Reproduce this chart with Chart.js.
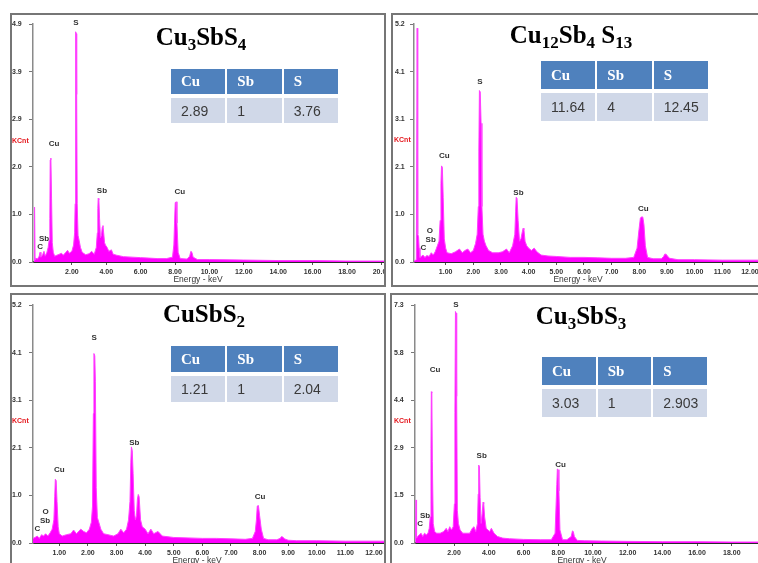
<!DOCTYPE html>
<html><head><meta charset="utf-8">
<script src="https://cdn.jsdelivr.net/npm/chart.js@4"></script>
<style>
html,body{margin:0;padding:0;background:#fff;width:758px;height:563px;overflow:hidden;position:relative;}
.panel{position:absolute;box-sizing:border-box;border:2px solid #767676;overflow:hidden;background:#fff;}
.panel canvas{position:absolute;}
.title{position:absolute;transform:translateX(-50%);font:bold 25px "Liberation Serif",serif;line-height:25px;white-space:nowrap;color:#000;}
.title .s{font-size:0.68em;position:relative;top:0.28em;}
.tbl{position:absolute;display:grid;grid-template-columns:1fr 1fr 1fr;column-gap:2px;row-gap:4px;}
.tbl div{box-sizing:border-box;padding-left:10px;display:flex;align-items:center;}
.tbl .h{background:#4f81bd;color:#fff;font:bold 15px "Liberation Serif",serif;}
.tbl .d{background:#d0d8e8;color:#3a3a3a;font:14px "Liberation Sans",sans-serif;}
</style></head>
<body>
<div class="panel" id="pTL" style="left:10px;top:13px;width:376px;height:274px;"><canvas id="cTL"></canvas></div>
<div class="panel" id="pTR" style="left:391px;top:13px;width:380px;height:274px;"><canvas id="cTR"></canvas></div>
<div class="panel" id="pBL" style="left:10px;top:293px;width:376px;height:280px;"><canvas id="cBL"></canvas></div>
<div class="panel" id="pBR" style="left:390px;top:293px;width:380px;height:280px;"><canvas id="cBR"></canvas></div>

<div class="title" style="left:201px;top:24px;">Cu<span class="s">3</span>SbS<span class="s">4</span></div>
<div class="title" style="left:571px;top:22px;">Cu<span class="s">12</span>Sb<span class="s">4</span> S<span class="s">13</span></div>
<div class="title" style="left:204px;top:301px;">CuSbS<span class="s">2</span></div>
<div class="title" style="left:581px;top:303px;">Cu<span class="s">3</span>SbS<span class="s">3</span></div>

<div class="tbl" id="tTL" style="left:171px;top:69px;width:167px;grid-template-rows:25px 25px;"></div>
<div class="tbl" id="tTR" style="left:541px;top:61px;width:167px;grid-template-rows:28px 28px;"></div>
<div class="tbl" id="tBL" style="left:171px;top:346px;width:167px;grid-template-rows:26px 26px;"></div>
<div class="tbl" id="tBR" style="left:542px;top:357px;width:165px;grid-template-rows:28px 28px;"></div>

<script>
// ---------- DATA ----------
const tableHeaders = ['Cu','Sb','S'];
const ratiosTL = ['2.89','1','3.76'];
const ratiosTR = ['11.64','4','12.45'];
const ratiosBL = ['1.21','1','2.04'];
const ratiosBR = ['3.03','1','2.903'];

// Cu3SbS4 spectrum (keV, KCnt)
const energyTL = [-0.2,-0.17,-0.14,-0.1,0.0,0.1,0.15,0.2,0.3,0.38,0.45,0.55,0.62,0.68,0.72,0.74,0.78,0.82,0.86,0.92,1.0,1.2,1.4,1.5,1.65,1.75,1.85,2.0,2.1,2.16,2.19,2.21,2.23,2.26,2.28,2.31,2.36,2.42,2.5,2.6,2.8,3.0,3.15,3.3,3.42,3.48,3.51,3.53,3.57,3.61,3.66,3.72,3.77,3.81,3.85,3.9,3.95,4.05,4.15,4.3,4.4,4.6,5.0,5.5,6.0,6.5,7.0,7.5,7.85,7.93,7.97,8.01,8.06,8.11,8.18,8.3,8.7,8.85,8.92,8.98,9.05,9.3,10,12,14,16,18,20.15];
const countsTL = [0.02,1.13,0.05,0.08,0.06,0.12,0.2,0.1,0.15,0.22,0.12,0.2,0.3,0.45,0.9,2.1,2.14,1.3,0.4,0.2,0.12,0.15,0.18,0.14,0.2,0.24,0.18,0.22,0.35,0.6,1.2,3.4,4.74,4.7,3.45,1.2,0.55,0.45,0.3,0.2,0.15,0.17,0.22,0.16,0.3,0.6,1.1,1.31,1.28,0.9,0.5,0.55,0.72,0.75,0.6,0.4,0.35,0.3,0.22,0.25,0.16,0.14,0.11,0.1,0.09,0.08,0.07,0.07,0.1,0.35,0.8,1.22,1.24,0.8,0.2,0.07,0.06,0.12,0.22,0.2,0.1,0.05,0.05,0.04,0.03,0.03,0.02,0.02];

// Cu12Sb4S13 spectrum
const energyTR = [-0.14,-0.06,-0.03,-0.01,0.02,0.04,0.07,0.12,0.18,0.25,0.32,0.4,0.48,0.55,0.62,0.7,0.76,0.8,0.83,0.85,0.88,0.91,0.95,1.0,1.05,1.2,1.35,1.5,1.6,1.7,1.8,1.9,2.0,2.08,2.14,2.18,2.2,2.22,2.25,2.28,2.31,2.35,2.4,2.46,2.55,2.7,2.9,3.05,3.2,3.3,3.42,3.5,3.53,3.55,3.58,3.62,3.67,3.72,3.77,3.8,3.83,3.87,3.93,4.0,4.1,4.2,4.3,4.45,4.7,5.0,5.5,6.0,6.5,7.0,7.5,7.8,7.92,7.99,8.04,8.09,8.13,8.17,8.22,8.3,8.5,8.8,8.88,8.92,8.97,9.03,9.1,9.4,10,11,12.9];
const countsTR = [0.02,0.05,5.06,0.6,0.55,0.3,0.1,0.12,0.15,0.1,0.14,0.12,0.2,0.15,0.22,0.35,0.45,0.9,1.7,2.08,2.05,1.4,0.5,0.3,0.2,0.18,0.22,0.28,0.2,0.25,0.28,0.2,0.25,0.4,0.6,1.2,2.4,3.71,3.68,3.0,1.2,0.6,0.45,0.35,0.25,0.2,0.2,0.22,0.28,0.2,0.35,0.6,1.1,1.4,1.38,0.9,0.45,0.5,0.65,0.73,0.7,0.45,0.35,0.3,0.25,0.3,0.22,0.15,0.13,0.12,0.1,0.1,0.09,0.08,0.08,0.1,0.3,0.7,0.95,0.98,0.97,0.8,0.35,0.1,0.07,0.07,0.12,0.17,0.17,0.12,0.08,0.05,0.05,0.04,0.04];

// CuSbS2 spectrum
const energyBL = [0.08,0.15,0.23,0.3,0.38,0.45,0.52,0.6,0.68,0.75,0.81,0.84,0.86,0.89,0.92,0.96,1.0,1.1,1.25,1.4,1.5,1.6,1.75,1.85,1.95,2.05,2.12,2.16,2.19,2.21,2.24,2.26,2.29,2.33,2.38,2.45,2.55,2.7,2.9,3.05,3.15,3.25,3.35,3.42,3.47,3.5,3.52,3.55,3.58,3.62,3.66,3.7,3.73,3.76,3.79,3.84,3.9,4.0,4.1,4.2,4.3,4.45,4.6,5.0,5.5,6.0,6.5,7.0,7.5,7.75,7.85,7.89,7.92,7.96,8.0,8.06,8.14,8.3,8.6,8.72,8.77,8.81,8.87,9.0,9.3,10,11,12.35];
const countsBL = [0.1,0.12,0.15,0.1,0.18,0.15,0.2,0.15,0.22,0.3,0.5,1.0,1.38,1.35,0.9,0.35,0.2,0.15,0.18,0.2,0.28,0.2,0.3,0.25,0.22,0.3,0.45,0.8,2.8,4.1,4.05,3.5,1.2,0.55,0.45,0.3,0.2,0.18,0.15,0.2,0.3,0.22,0.3,0.5,0.9,1.75,2.08,2.0,1.5,0.7,0.5,0.6,0.95,1.05,1.0,0.5,0.35,0.3,0.2,0.3,0.2,0.25,0.15,0.12,0.11,0.1,0.1,0.09,0.08,0.1,0.25,0.5,0.8,0.81,0.6,0.3,0.1,0.07,0.07,0.1,0.14,0.13,0.09,0.06,0.05,0.05,0.04,0.04];

// Cu3SbS3 spectrum
const energyBR = [-0.23,-0.19,-0.16,-0.1,0.0,0.1,0.2,0.3,0.4,0.5,0.57,0.63,0.67,0.69,0.72,0.75,0.8,0.88,1.0,1.2,1.4,1.55,1.65,1.75,1.85,1.95,2.02,2.05,2.08,2.12,2.15,2.19,2.25,2.35,2.5,2.7,2.9,3.05,3.15,3.25,3.35,3.39,3.42,3.46,3.5,3.56,3.62,3.67,3.71,3.76,3.85,3.95,4.05,4.15,4.3,4.5,4.8,5.2,6.0,7.0,7.6,7.82,7.92,7.95,7.99,8.04,8.1,8.25,8.5,8.75,8.82,8.87,8.93,9.1,9.5,10.5,12,14,16,18,20.5];
const countsBR = [0.05,1.32,0.15,0.2,0.25,0.3,0.2,0.3,0.25,0.3,0.45,0.8,2.9,4.64,4.6,2.5,0.6,0.35,0.3,0.3,0.35,0.45,0.35,0.5,0.4,0.5,1.2,4.0,7.1,7.05,4.5,1.0,0.6,0.4,0.3,0.3,0.3,0.45,0.5,0.35,0.6,1.5,2.39,2.35,1.4,0.6,0.9,1.25,1.2,0.8,0.45,0.4,0.35,0.45,0.3,0.2,0.15,0.13,0.11,0.1,0.1,0.3,1.8,2.27,2.25,1.6,0.4,0.1,0.1,0.2,0.37,0.35,0.2,0.08,0.07,0.06,0.05,0.04,0.04,0.03,0.03];

// Axis ticks
const yTickValsTL = [0,0.98,1.96,2.94,3.92,4.9];
const yTickLabelsTL = ['0.0','1.0','2.0','2.9','3.9','4.9'];
const yTickValsTR = [0,1.03,2.06,3.09,4.12,5.15];
const yTickLabelsTR = ['0.0','1.0','2.1','3.1','4.1','5.2'];
const yTickValsBL = [0,1.03,2.06,3.09,4.12,5.15];
const yTickLabelsBL = ['0.0','1.0','2.1','3.1','4.1','5.2'];
const yTickValsBR = [0,1.46,2.92,4.38,5.84,7.3];
const yTickLabelsBR = ['0.0','1.5','2.9','4.4','5.8','7.3'];
const xTickValsTL = [2,4,6,8,10,12,14,16,18,20];
const xTickLabelsTL = ['2.00','4.00','6.00','8.00','10.00','12.00','14.00','16.00','18.00','20.00'];
const xTickValsTR = [1,2,3,4,5,6,7,8,9,10,11,12];
const xTickLabelsTR = ['1.00','2.00','3.00','4.00','5.00','6.00','7.00','8.00','9.00','10.00','11.00','12.00'];
const xTickValsBL = [1,2,3,4,5,6,7,8,9,10,11,12];
const xTickLabelsBL = ['1.00','2.00','3.00','4.00','5.00','6.00','7.00','8.00','9.00','10.00','11.00','12.00'];
const xTickValsBR = [2,4,6,8,10,12,14,16,18,20];
const xTickLabelsBR = ['2.00','4.00','6.00','8.00','10.00','12.00','14.00','16.00','18.00','20.00'];

// Peak annotations (element, keV, KCnt)
const peakTextTL = ['S','Cu','Sb','Cu','Sb','C'];
const peakXTL = [2.24,0.96,3.75,8.28,0.38,0.15];
const peakYTL = [4.92,2.43,1.46,1.44,0.47,0.31];
const peakTextTR = ['S','Cu','Sb','Cu','O','Sb','C'];
const peakXTR = [2.24,0.95,3.63,8.15,0.43,0.46,0.19];
const peakYTR = [3.9,2.30,1.49,1.15,0.68,0.48,0.3];
const peakTextBL = ['S','Cu','Sb','Cu','O','Sb','C'];
const peakXBL = [2.22,1.0,3.62,8.02,0.52,0.5,0.23];
const peakYBL = [4.43,1.58,2.17,0.99,0.68,0.48,0.3];
const peakTextBR = ['S','Cu','Sb','Cu','Sb','C'];
const peakXBR = [2.11,0.9,3.59,8.14,0.33,0.04];
const peakYBR = [7.32,5.31,2.68,2.41,0.84,0.6];

// ---------- BUILD ----------
function buildTable(id, vals){
  const el=document.getElementById(id);
  tableHeaders.forEach(h=>{const d=document.createElement('div');d.className='h';d.textContent=h;el.appendChild(d);});
  vals.forEach(v=>{const d=document.createElement('div');d.className='d';d.textContent=v;el.appendChild(d);});
}
buildTable('tTL',ratiosTL);buildTable('tTR',ratiosTR);buildTable('tBL',ratiosBL);buildTable('tBR',ratiosBR);

const CW=790, CH=600;
const overlay={
  id:'overlay',
  afterDraw(chart,args,o){
    const ctx=chart.ctx, xs=chart.scales.x, ys=chart.scales.y;
    ctx.save();
    ctx.font='bold 8px "Liberation Sans", sans-serif';
    ctx.fillStyle='#333';ctx.textAlign='center';ctx.textBaseline='middle';
    o.texts.forEach((t,i)=>ctx.fillText(t, xs.getPixelForValue(o.px[i]), ys.getPixelForValue(o.py[i])));
    ctx.fillStyle='#e4161c';ctx.textAlign='left';ctx.font='bold 7px "Liberation Sans", sans-serif';
    ctx.fillText('KCnt', o.kx, o.ky);
    ctx.fillStyle='#333';ctx.textAlign='center';ctx.font='8.5px "Liberation Sans", sans-serif';
    ctx.fillText('Energy - keV', o.ex, o.ey);
    ctx.restore();
  }
};

function makeChart(cid, panel, L, energy, counts, yVals, yLabels, xVals, xLabels, pt, px, py){
  const cv=document.getElementById(cid);
  cv.width=CW; cv.height=CH;
  cv.style.width=CW+'px'; cv.style.height=CH+'px';
  cv.style.left=-(panel.l+2)+'px'; cv.style.top=-(panel.t+2)+'px';
  new Chart(cv,{
    type:'line',
    data:{datasets:[{data:energy.map((e,i)=>({x:e,y:counts[i]})),
      borderColor:'#ff40ff',backgroundColor:'#ff00ff',borderWidth:1,fill:'origin',pointRadius:0,tension:0}]},
    options:{
      responsive:false,animation:false,devicePixelRatio:1,
      layout:{autoPadding:false,padding:{left:L.yLabelX,top:L.top,right:CW-L.rightPx,bottom:CH-L.xBoxBottom}},
      plugins:{legend:{display:false},tooltip:{enabled:false},title:{display:false},
        overlay:{texts:pt,px:px,py:py,kx:L.kx,ky:L.ky,ex:L.ex,ey:L.ey}},
      scales:{
        x:{type:'linear',min:L.xMin,max:L.xMax,
          afterBuildTicks:s=>{s.ticks=xVals.map(v=>({value:v}));},
          afterFit:s=>{s.height=L.xBoxBottom-L.bottom;},
          ticks:{autoSkip:false,maxRotation:0,padding:2.5,color:'#333',font:{family:'Liberation Sans',size:7,weight:'bold'},
            callback:(v,i)=>xLabels[i]},
          grid:{drawOnChartArea:false,drawTicks:true,tickLength:3,color:'#555'},
          border:{display:true,color:'#2a2a2a',width:2}},
        y:{type:'linear',min:0,max:yVals[yVals.length-1],
          afterBuildTicks:s=>{s.ticks=yVals.map(v=>({value:v}));},
          afterFit:s=>{s.width=L.axisX-L.yLabelX;},
          ticks:{crossAlign:'far',padding:3,color:'#333',font:{family:'Liberation Sans',size:7,weight:'bold'},
            callback:(v,i)=>yLabels[i]},
          grid:{drawOnChartArea:false,drawTicks:true,tickLength:4,color:'#777'},
          border:{display:true,color:'#8a8a8a',width:1.5}}
      }
    },
    plugins:[overlay]
  });
}

makeChart('cTL',{l:10,t:13},{yLabelX:12,axisX:33,top:24,bottom:262,xBoxBottom:285,xMin:-0.26,xMax:20.15,rightPx:384,kx:12,ky:141,ex:198,ey:280},
  energyTL,countsTL,yTickValsTL,yTickLabelsTL,xTickValsTL,xTickLabelsTL,peakTextTL,peakXTL,peakYTL);
makeChart('cTR',{l:391,t:13},{yLabelX:395,axisX:414,top:24,bottom:262,xBoxBottom:285,xMin:-0.145,xMax:12.9,rightPx:774.8,kx:394,ky:140,ex:578,ey:280},
  energyTR,countsTR,yTickValsTR,yTickLabelsTR,xTickValsTR,xTickLabelsTR,peakTextTR,peakXTR,peakYTR);
makeChart('cBL',{l:10,t:293},{yLabelX:12,axisX:33,top:305,bottom:543,xBoxBottom:566,xMin:0.08,xMax:12.35,rightPx:384,kx:12,ky:421,ex:197,ey:561},
  energyBL,countsBL,yTickValsBL,yTickLabelsBL,xTickValsBL,xTickLabelsBL,peakTextBL,peakXBL,peakYBL);
makeChart('cBR',{l:390,t:293},{yLabelX:394,axisX:415,top:305,bottom:543,xBoxBottom:566,xMin:-0.25,xMax:20.5,rightPx:775.2,kx:394,ky:421,ex:582,ey:561},
  energyBR,countsBR,yTickValsBR,yTickLabelsBR,xTickValsBR,xTickLabelsBR,peakTextBR,peakXBR,peakYBR);
</script>
</body></html>
